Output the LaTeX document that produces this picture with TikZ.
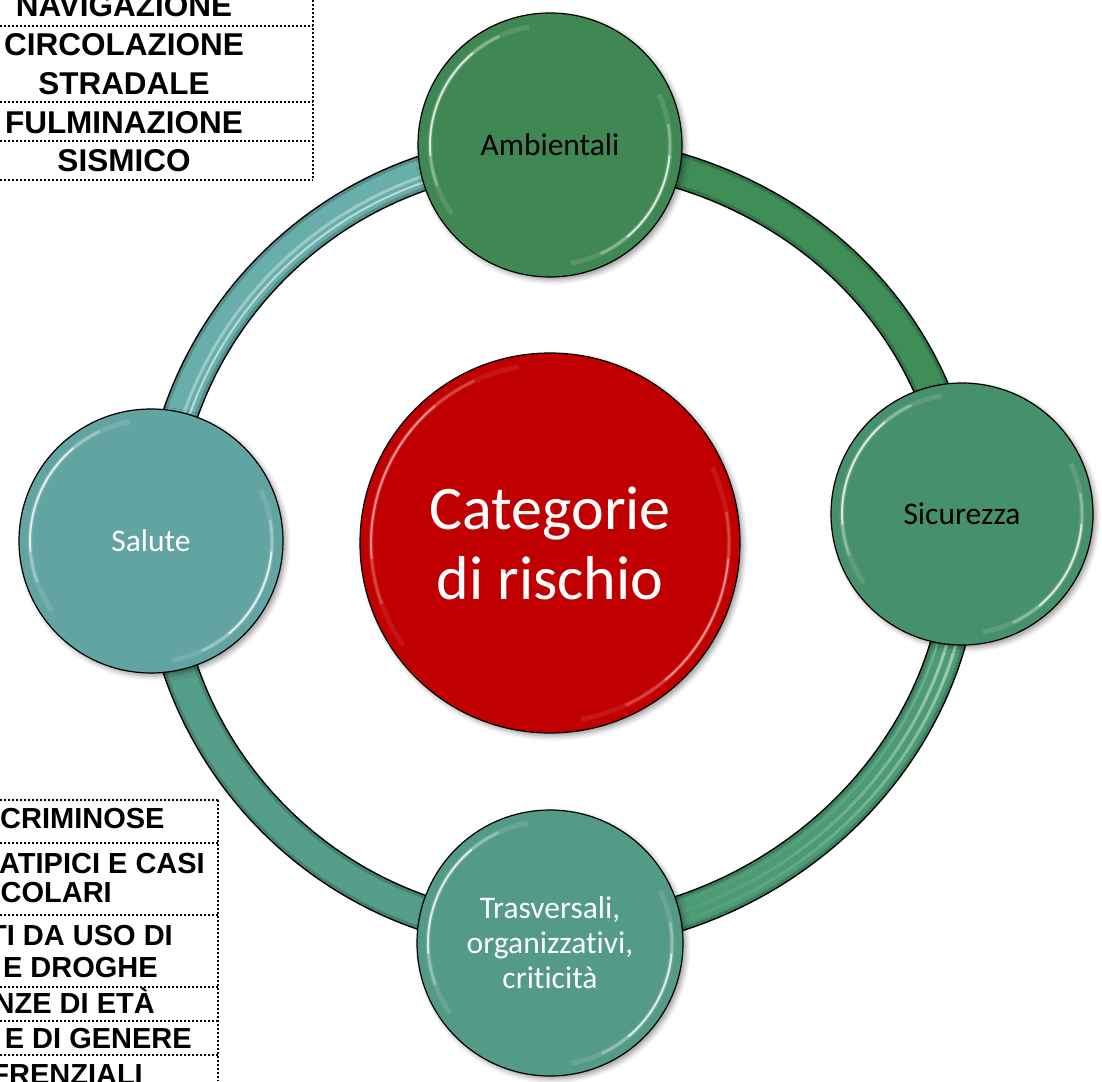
\documentclass[tikz,border=0pt]{standalone}
\usepackage{fontspec}
\setmainfont{Carlito}[Ligatures=NoCommon]
\newfontfamily\tabfont{Liberation Sans}
\usetikzlibrary{shadows.blur,fadings}

\definecolor{ambcol}{HTML}{3F8753}
\definecolor{siccol}{HTML}{47906C}
\definecolor{tracol}{HTML}{539A87}
\definecolor{salcol}{HTML}{62A4A1}
\definecolor{redcol}{HTML}{C00000}
\definecolor{arcTL}{HTML}{68AEAA}
\definecolor{arcTR}{HTML}{3F8D57}
\definecolor{arcBR}{HTML}{4C9B74}
\definecolor{arcBL}{HTML}{559E89}

\tikzfading[name=stripefade, top color=transparent!0, bottom color=transparent!100]
\pgfdeclarelayer{back}
\pgfsetlayers{back,main}

\tikzset{
  bubble/.style={circle, draw=black, line width=1.2pt, inner sep=0pt,
    minimum size=#1, align=center,
    blur shadow={shadow xshift=3pt, shadow yshift=-3pt,
      shadow blur radius=5pt, shadow opacity=40}},
  small label/.style={font=\fontsize{31.5}{35}\selectfont},
  hub label/.style={font=\fontsize{62}{70}\selectfont, text=white},
  tube edge/.style={line width=36pt, draw=black},
  tube body/.style={line width=33pt, draw=#1!82!black},
  tube core/.style={line width=27pt, draw=#1},
  tube stripe/.style={line width=#1, draw=white},
  toptext/.style={font=\tabfont\bfseries\fontsize{31.5}{34}\selectfont, inner sep=0pt},
  lowtext/.style={font=\tabfont\bfseries\fontsize{29}{32}\selectfont, inner sep=0pt},
  rowline/.style={line width=2pt, dash pattern=on 2pt off 2pt},
}

% glossy highlight arcs inside a round node: #1 node, #2 radius, #3 colour
\newcommand\shine[3]{%
  \foreach \a/\b/\o/\w in {100/215/0.12/5pt, 115/200/0.3/2.5pt, 130/185/0.7/1.8pt}{%
    \draw[#3, opacity=\o, line width=\w] (#1.center) ++(\a:#2)
      arc[start angle=\a, end angle=\b, radius=#2];}
  \foreach \a/\b/\o/\w in {-80/25/0.12/5pt, -65/10/0.3/2.5pt, -50/-5/0.7/1.8pt}{%
    \draw[#3, opacity=\o, line width=\w] (#1.center) ++(\a:#2)
      arc[start angle=\a, end angle=\b, radius=#2];}
}

\begin{document}
\begin{tikzpicture}[x=1pt,y=1pt]
\useasboundingbox (0,0) rectangle (1102,-1081);

% ---- the four categories and the hub ----
\node[bubble=264pt, fill=ambcol, small label] (amb) at (550,-145) {Ambientali};
\node[bubble=262pt, fill=siccol, small label] (sic) at (962,-514) {Sicurezza};
\node[bubble=264pt, fill=salcol, small label, text=white] (sal) at (151,-541) {Salute};
\node[bubble=266pt, fill=tracol, small label, text=white] (tra) at (550,-943)
  {Trasversali,\\organizzativi,\\criticità};
\node[bubble=380pt, fill=redcol, hub label] (hub) at (550,-543) {Categorie\\di rischio};

\shine{amb}{120}{white}
\shine{sic}{120}{white}
\shine{sal}{121}{white}
\shine{tra}{122}{white}
\shine{hub}{179}{red!30!white}

% ---- the cycle ring, behind the nodes ----
\begin{pgfonlayer}{back}
  \draw[tube edge, postaction={tube body=arcTL}, postaction={tube core=arcTL}]
    ([xshift=8pt]sal.center) to[out=90,in=180] ([yshift=-7pt]amb.center);
  \draw[tube edge, postaction={tube body=arcTR}, postaction={tube core=arcTR}]
    ([yshift=-7pt]amb.center) to[out=0,in=94] (sic.center);
  \draw[tube edge, postaction={tube body=arcBR}, postaction={tube core=arcBR}]
    (sic.center) to[out=-86,in=0] ([yshift=9pt]tra.center);
  \draw[tube edge, postaction={tube body=arcBL}, postaction={tube core=arcBL}]
    ([yshift=9pt]tra.center) to[out=180,in=-90] ([xshift=8pt]sal.center);
  % light streaks along the tubes
  \draw[tube stripe=3pt, opacity=0.35]
    ([xshift=11pt]sal.center) to[out=90,in=180] ([yshift=-10pt]amb.center);
  \draw[tube stripe=2pt, opacity=0.55]
    ([xshift=17pt]sal.center) to[out=90,in=180] ([yshift=-16pt]amb.center);
  \draw[tube stripe=3pt, opacity=0.7, path fading=stripefade]
    ([xshift=-1pt]sic.center) to[out=-86,in=0] ([yshift=10pt]tra.center);
  \draw[tube stripe=3pt, opacity=0.7, path fading=stripefade]
    ([xshift=8pt]sic.center) to[out=-86,in=0] ([yshift=1pt]tra.center);
  \draw[tube stripe=2pt, opacity=0.35, path fading=stripefade]
    ([xshift=-10pt]sic.center) to[out=-86,in=0] ([yshift=19pt]tra.center);
\end{pgfonlayer}

% ---- upper list ----
\draw[rowline] (0,-26) -- (313,-26);
\draw[rowline] (0,-102) -- (313,-102);
\draw[rowline] (0,-141) -- (313,-141);
\draw[rowline] (0,-180) -- (313,-180);
\draw[rowline] (313,0) -- (313,-180);
\node[toptext, anchor=base] (u1) at (124,-17) {NAVIGAZIONE};
\node[toptext, anchor=base] (u2) at (124,-56) {CIRCOLAZIONE};
\node[toptext, anchor=base] (u3) at (124,-94) {STRADALE};
\node[toptext, anchor=base] (u4) at (124,-133) {FULMINAZIONE};
\node[toptext, anchor=base] (u5) at (124,-171) {SISMICO};

% ---- lower list ----
\draw[rowline] (0,-800) -- (218,-800);
\draw[rowline] (0,-843) -- (218,-843);
\draw[rowline] (0,-915) -- (218,-915);
\draw[rowline] (0,-987) -- (218,-987);
\draw[rowline] (0,-1021) -- (218,-1021);
\draw[rowline] (0,-1055) -- (218,-1055);
\draw[rowline] (218,-800) -- (218,-1081);
\node[lowtext, anchor=base west] (l1) at (0,-828) {CRIMINOSE};
\node[lowtext, anchor=base east] (l2) at (205,-873) {ATIPICI E CASI};
\node[lowtext, anchor=base east] (l3) at (112,-902) {ICOLARI};
\node[lowtext, anchor=base east] (l4) at (173,-945) {TI DA USO DI};
\node[lowtext, anchor=base east] (l5) at (158,-977) {E DROGHE};
\node[lowtext, anchor=base east] (l6) at (155,-1013) {NZE DI ETÀ};
\node[lowtext, anchor=base east] (l7) at (192,-1048) {E DI GENERE};
\node[lowtext, anchor=base east] (l8) at (143,-1084) {FRENZIALI};
\end{tikzpicture}
\end{document}
